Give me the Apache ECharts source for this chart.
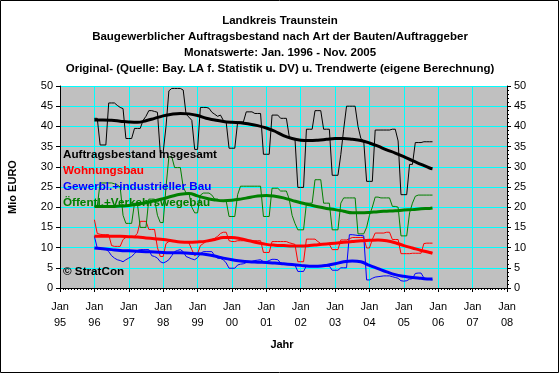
<!DOCTYPE html>
<html><head><meta charset="utf-8">
<script src="https://cdn.jsdelivr.net/npm/echarts@6/dist/echarts.min.js"></script>
<style>html,body{margin:0;padding:0;background:#fff}#c{width:560px;height:374px}</style>
</head><body><div id="c"></div>
<script>
const titleLines = [
  'Landkreis Traunstein',
  'Baugewerblicher Auftragsbestand nach Art der Bauten/Auftraggeber',
  'Monatswerte: Jan. 1996 - Nov. 2005',
  'Original- (Quelle: Bay. LA f. Statistik u. DV) u. Trendwerte (eigene Berechnung)'
];
const xTickLabels = ['Jan\n95','Jan\n96','Jan\n97','Jan\n98','Jan\n99','Jan\n00','Jan\n01','Jan\n02','Jan\n03','Jan\n04','Jan\n05','Jan\n06','Jan\n07','Jan\n08'];
const yAxisName = 'Mio EURO';
const xAxisName = 'Jahr';
const seriesNames = ['Auftragsbestand Insgesamt','Wohnungsbau','Gewerbl.+industrieller Bau','Öffentl.+Verkehrswegebau'];
const copyright = '© StratCon';
const firstMonth = 12; // Jan 1996, counted in months after Jan 1995

// monthly original values Jan 1996 - Nov 2005
const blackRaw = [
 42.0,42.0,35.4,35.4,35.4,45.8,45.8,45.8,45.2,44.7,44.4,37.0,
 37.0,37.0,39.5,39.5,39.5,41.5,42.5,43.9,43.9,43.7,43.5,33.5,
 33.5,40.0,48.8,49.4,49.4,49.4,49.4,49.0,43.0,42.3,41.5,34.3,
 34.3,44.7,44.7,44.7,44.5,43.5,43.0,42.5,42.8,41.5,41.0,34.6,
 34.6,34.6,41.1,41.1,41.1,43.6,43.6,43.6,43.2,43.2,43.2,33.1,
 33.1,33.1,42.8,42.8,42.8,42.0,42.0,42.0,37.5,37.0,37.0,24.9,
 24.9,24.9,39.3,39.3,39.3,43.9,43.9,43.9,39.3,39.3,39.3,27.9,
 27.9,27.9,33.0,39.3,45.0,45.0,45.0,45.0,40.0,37.0,36.4,26.4,
 26.4,26.4,39.1,39.1,39.1,39.1,39.1,39.1,39.3,39.3,36.4,23.1,
 23.1,23.1,30.6,30.6,36.0,36.0,36.0,36.2,36.2,36.2,36.2
];
const redRaw = [
 16.9,13.5,13.3,13.2,13.2,13.2,10.5,10.3,10.3,10.3,12.0,12.5,
 12.5,12.5,12.8,13.5,16.5,16.5,16.5,14.5,14.5,14.5,10.0,7.8,
 7.8,11.0,11.5,11.5,11.5,11.5,11.5,11.5,11.3,11.2,9.5,8.0,
 8.5,10.5,11.0,11.5,11.5,12.0,12.3,12.8,13.5,13.8,13.8,11.7,
 11.5,11.5,11.7,11.7,11.7,11.7,11.7,11.7,11.7,11.7,11.7,8.8,
 8.8,8.8,11.5,11.5,11.5,11.5,11.5,11.5,11.2,11.0,10.8,6.5,
 6.5,6.5,12.1,12.1,12.1,12.1,11.5,11.0,11.0,10.8,10.8,9.5,
 9.5,9.5,11.9,11.9,11.9,12.2,12.5,12.5,12.5,12.5,12.5,9.9,
 9.9,12.0,13.6,13.6,13.6,13.6,13.8,13.8,12.0,12.0,12.0,8.5,
 8.5,8.5,8.5,8.6,8.6,8.6,8.6,11.0,11.1,11.1,11.1
];
const blueRaw = [
 12.8,9.9,9.8,9.7,9.6,9.0,8.0,7.4,7.0,6.8,6.5,7.0,
 7.4,7.8,8.5,9.3,9.5,9.5,9.5,9.5,8.0,7.8,7.4,6.5,
 6.2,6.5,7.0,8.0,9.0,9.3,9.5,9.0,7.8,7.5,7.2,7.0,
 7.5,8.5,9.0,9.0,9.0,9.0,8.0,7.4,7.3,7.0,6.2,4.9,
 4.9,4.9,5.7,5.9,6.0,6.3,6.5,6.6,6.8,6.9,7.0,6.5,
 6.5,6.8,7.1,7.1,7.0,6.2,6.0,5.9,5.8,5.8,5.7,4.1,
 4.1,4.1,5.5,5.5,5.5,5.5,5.5,5.5,5.4,5.4,5.4,4.4,
 4.4,4.4,5.0,5.0,5.0,13.2,13.2,13.1,13.0,13.0,12.9,2.0,
 2.0,2.4,2.7,2.8,2.9,3.0,3.0,3.0,2.8,2.6,2.4,1.8,
 1.7,1.8,2.2,2.3,3.6,3.7,3.7,2.5,2.2,2.1,2.0
];
const greenRaw = [
 20.2,20.2,26.0,26.0,26.0,26.0,26.0,25.8,25.5,25.0,18.0,16.0,
 16.0,16.0,21.0,21.0,15.0,15.0,15.0,22.0,22.0,22.0,18.0,16.2,
 16.2,25.0,32.5,32.5,29.8,29.8,29.8,25.0,23.5,23.5,20.0,18.6,
 18.6,23.0,23.5,23.5,23.5,23.0,22.0,22.0,21.5,21.5,21.5,17.7,
 17.7,17.7,23.1,25.2,25.2,25.2,25.2,25.2,25.2,25.2,25.2,17.7,
 17.7,17.7,24.7,24.7,24.7,24.0,24.0,24.0,22.0,18.0,16.0,14.4,
 14.4,14.4,21.0,21.0,21.0,26.8,26.8,26.8,21.0,21.0,21.0,14.4,
 14.4,14.4,21.0,22.3,22.3,22.3,22.3,22.3,13.4,13.4,13.4,15.0,
 18.0,20.0,22.5,22.5,22.3,22.3,22.3,22.3,20.2,20.2,20.0,12.9,
 12.9,12.9,18.6,21.0,22.7,23.0,23.0,23.0,23.0,23.0,23.0
];
// trend values, read every quarter (months after Jan 1996)
const trendMonths = [0,3,6,9,12,15,18,21,24,27,30,33,36,39,42,45,48,51,54,57,60,63,66,69,72,75,78,81,84,87,90,93,96,99,102,105,108,111,114,117,118];
const blackTrend = [41.6,41.6,41.5,41.3,41.1,41.0,41.4,42.0,42.6,43.0,43.2,43.1,42.7,42.0,41.6,41.2,41.0,40.9,40.6,40.2,39.6,38.8,37.7,37.0,36.6,36.5,36.6,36.8,37.0,37.0,36.8,36.5,35.9,35.1,34.2,33.4,32.5,31.5,30.6,29.7,29.5];
const redTrend   = [12.8,12.8,12.8,12.8,12.7,12.6,12.4,12.2,12.0,11.7,11.4,11.3,11.4,11.6,12.0,12.5,12.5,12.2,11.7,11.2,10.8,10.6,10.5,10.4,10.4,10.5,10.7,10.9,11.1,11.3,11.5,11.7,11.8,11.9,11.7,11.2,10.5,9.9,9.3,8.8,8.6];
const blueTrend  = [9.9,9.7,9.5,9.3,9.2,9.1,9.0,8.9,8.8,8.7,8.7,8.6,8.5,8.3,7.9,7.4,7.0,6.7,6.5,6.4,6.3,6.2,6.0,5.8,5.6,5.4,5.4,5.6,6.0,6.5,6.7,6.5,5.6,4.8,4.0,3.3,2.9,2.6,2.4,2.2,2.2];
const greenTrend = [20.2,20.2,20.2,20.3,20.4,20.7,21.1,21.6,22.1,22.7,23.2,23.4,22.8,22.2,21.8,21.6,21.7,22.0,22.4,22.8,22.9,22.7,22.3,21.7,21.1,20.6,20.1,19.7,19.4,19.0,18.6,18.6,18.7,18.9,19.0,19.1,19.3,19.4,19.6,19.7,19.8];

const colors = ['#000000','#ff0000','#0000ff','#008000'];
const FONT = 'Liberation Sans, Arial, sans-serif';

const raws = [blackRaw, redRaw, blueRaw, greenRaw];
const trends = [blackTrend, redTrend, blueTrend, greenTrend];
const series = [];
raws.forEach((arr, k) => {
  series.push({
    name: seriesNames[k] + ' (Original)', type: 'line', yAxisIndex: 0,
    data: arr.map((v, i) => [firstMonth + i, v]),
    showSymbol: false, symbol: 'none',
    lineStyle: { color: colors[k], width: 1 }, z: 3
  });
});
trends.forEach((arr, k) => {
  series.push({
    name: seriesNames[k] + ' (Trend)', type: 'line', yAxisIndex: 0,
    data: arr.map((v, i) => [firstMonth + trendMonths[i], v]),
    showSymbol: false, symbol: 'none', smooth: 0.4,
    lineStyle: { color: colors[k], width: 3 }, z: 4
  });
});

const gLeft = 60, gTop = 86, gRight = 53, gBottom = 86;
const graphics = [
  { type: 'rect', shape: { x: 0.5, y: 0.5, width: 558, height: 372 }, style: { fill: 'none', stroke: '#000', lineWidth: 1 }, z: 100 }
];
const titleY = [21, 37, 53, 69];
titleLines.forEach((t, i) => graphics.push({
  type: 'text', x: 280, y: titleY[i],
  style: { text: t, font: 'bold 11.5px ' + FONT, fill: '#000', align: 'center', verticalAlign: 'middle' }, z: 100
}));
const legendY = [155, 171, 187, 203];
seriesNames.forEach((t, i) => graphics.push({
  type: 'text', x: 63, y: legendY[i],
  style: { text: t, font: 'bold 11.7px ' + FONT, fill: colors[i], align: 'left', verticalAlign: 'middle' }, z: 100
}));
graphics.push({ type: 'text', x: 63, y: 272, style: { text: copyright, font: 'bold 11.7px ' + FONT, fill: '#000', align: 'left', verticalAlign: 'middle' }, z: 100 });
graphics.push({ type: 'text', x: 13, y: 187, rotation: Math.PI / 2, style: { text: yAxisName, font: 'bold 11px ' + FONT, fill: '#000', align: 'center', verticalAlign: 'middle' }, z: 100 });
graphics.push({ type: 'text', x: 282, y: 345, style: { text: xAxisName, font: 'bold 11px ' + FONT, fill: '#000', align: 'center', verticalAlign: 'middle' }, z: 100 });

const yCommon = {
  type: 'value', min: 0, max: 50, interval: 5,
  axisLine: { show: true, lineStyle: { color: '#000', width: 1 } },
  axisTick: { show: true, length: 4, lineStyle: { color: '#000' } },
  axisLabel: { color: '#000', fontSize: 11, fontFamily: FONT, margin: 7 }
};

const option = {
  animation: false,
  backgroundColor: '#ffffff',
  grid: { left: gLeft, right: gRight, top: gTop, bottom: gBottom, show: true, backgroundColor: '#c0c0c0', borderWidth: 0 },
  xAxis: {
    type: 'value', min: 0, max: 156, interval: 12,
    axisLine: { show: true, onZero: false, lineStyle: { color: '#000', width: 1 } },
    axisTick: { show: true, length: 4, lineStyle: { color: '#000' } },
    minorTick: { show: true, splitNumber: 12, length: 2, lineStyle: { color: '#000' } },
    splitLine: { show: true, lineStyle: { color: '#00ffff', width: 1 } },
    axisLabel: { color: '#000', fontSize: 11, fontFamily: FONT, margin: 11, lineHeight: 16,
      formatter: v => xTickLabels[Math.round(v / 12)] }
  },
  yAxis: [
    Object.assign({}, yCommon, { position: 'left', splitLine: { show: true, lineStyle: { color: '#00ffff', width: 1 } } }),
    Object.assign({}, yCommon, { position: 'right', splitLine: { show: false },
      minorTick: { show: true, splitNumber: 5, length: 2, lineStyle: { color: '#000' } } })
  ],
  series: series,
  graphic: graphics
};
const chart = echarts.init(document.getElementById('c'), null, { renderer: 'canvas' });
chart.setOption(option);
</script></body></html>
